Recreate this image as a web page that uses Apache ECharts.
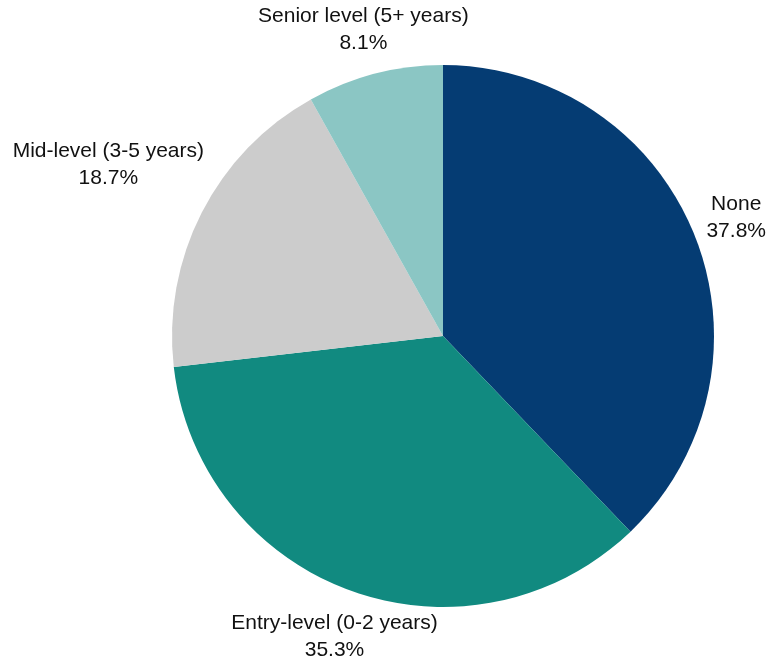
<!DOCTYPE html>
<html>
<head>
<meta charset="utf-8">
<script src="https://cdn.jsdelivr.net/npm/echarts@6/dist/echarts.min.js"></script>
<style>
  html, body { margin: 0; padding: 0; background: #fff; }
  #chart { width: 769px; height: 664px; }
</style>
</head>
<body>
<div id="chart"></div>
<script>
// Prior work experience shares
const categories = ['None', 'Entry-level (0-2 years)', 'Mid-level (3-5 years)', 'Senior level (5+ years)'];
const shares = [37.8, 35.3, 18.7, 8.1];
const colors = ['#053c73', '#118a80', '#cccccc', '#8bc6c4'];

const CX = 443, CY = 336, R = 271;
// Distance of each label centre from the pie centre
const labelDist = [316, 320, 376, 316];

const total = shares.reduce((a, b) => a + b, 0);
const midAngles = [];
let acc = 0;
shares.forEach(v => {
  midAngles.push((acc + v / 2) / total * 2 * Math.PI);
  acc += v;
});

const chart = echarts.init(document.getElementById('chart'), null, { renderer: 'canvas' });
chart.setOption({
  animation: false,
  color: colors,
  series: [{
    type: 'pie',
    center: [CX, CY],
    radius: R,
    startAngle: 90,
    clockwise: true,
    avoidLabelOverlap: false,
    itemStyle: { borderWidth: 0 },
    label: {
      show: true,
      position: 'outside',
      formatter: p => p.name + '\n' + p.value.toFixed(1) + '%',
      fontFamily: 'Liberation Sans, Arial, sans-serif',
      fontSize: 21,
      lineHeight: 27,
      color: '#111111',
      align: 'center'
    },
    labelLine: { show: false },
    labelLayout: function (params) {
      const i = params.dataIndex;
      const a = midAngles[i];
      const d = labelDist[i];
      return {
        x: CX + d * Math.sin(a),
        y: CY - d * Math.cos(a),
        align: 'center',
        verticalAlign: 'middle'
      };
    },
    data: categories.map((c, i) => ({ name: c, value: shares[i] }))
  }]
});
</script>
</body>
</html>
